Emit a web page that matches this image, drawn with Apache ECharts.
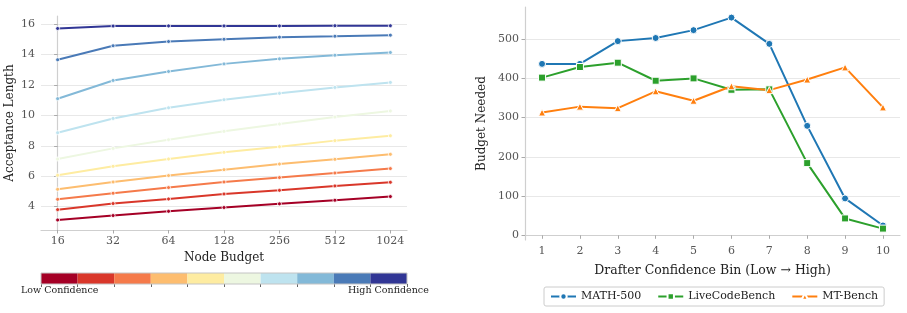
<!DOCTYPE html>
<html>
<head>
<meta charset="utf-8">
<script src="https://cdn.jsdelivr.net/npm/echarts@6/dist/echarts.min.js"></script>
<style>
  html, body { margin: 0; padding: 0; background: #fff; }
  #main { width: 907px; height: 313px; }
</style>
</head>
<body>
<div id="main"></div>
<script>
// left panel: acceptance length per node budget, one line per confidence bin
const budgetLabels = ['16', '32', '64', '128', '256', '512', '1024'];
const binColors = ['#a50026', '#d9372a', '#f57a4a', '#fdbd6f', '#feeca1',
                   '#edf7e1', '#bee3ef', '#83b9d8', '#4a7ab7', '#313695'];
// from low confidence (bottom) to high confidence (top)
const acceptLen = [
  [3.12, 3.41, 3.69, 3.94, 4.18, 4.42, 4.66],
  [3.80, 4.20, 4.50, 4.83, 5.07, 5.36, 5.60],
  [4.48, 4.88, 5.25, 5.62, 5.91, 6.21, 6.50],
  [5.14, 5.62, 6.04, 6.43, 6.80, 7.11, 7.44],
  [6.06, 6.65, 7.13, 7.57, 7.94, 8.34, 8.66],
  [7.13, 7.83, 8.40, 8.95, 9.43, 9.89, 10.29],
  [8.86, 9.80, 10.50, 11.03, 11.45, 11.84, 12.17],
  [11.10, 12.30, 12.89, 13.39, 13.72, 13.96, 14.14],
  [13.66, 14.58, 14.86, 15.01, 15.15, 15.21, 15.28],
  [15.72, 15.88, 15.89, 15.89, 15.89, 15.90, 15.90]
];
const leftYTicks = [4, 6, 8, 10, 12, 14, 16];

// right panel: budget needed per drafter confidence bin
const bins = [1, 2, 3, 4, 5, 6, 7, 8, 9, 10];
const math500 = [437, 437, 495, 503, 523, 555, 488, 279, 94, 25];
const liveCodeBench = [402, 429, 440, 394, 400, 371, 372, 184, 43, 17];
const mtBench = [313, 328, 324, 367, 343, 380, 370, 397, 428, 326];
const rightYTicks = [0, 100, 200, 300, 400, 500];

const font = 'DejaVu Serif';
const tickColor = '#555';
const spineColor = '#cfcfcf';
const gridColor = '#e8e8e8';

let myChart = echarts.init(document.getElementById('main'), null, {renderer: 'canvas'});

function xIndex(arr) {
  return arr.map(function (v, i) { return [i, v]; });
}

let series = [];
acceptLen.forEach(function (row, k) {
  series.push({
    name: 'bin' + (k + 1),
    type: 'line',
    xAxisIndex: 0,
    yAxisIndex: 0,
    data: xIndex(row),
    symbol: 'circle',
    symbolSize: 4,
    lineStyle: {width: 2, color: binColors[k]},
    itemStyle: {color: binColors[k], borderColor: '#fff', borderWidth: 0.8},
    z: 3 + k
  });
});

const rightSeries = [
  {name: 'MATH-500', data: math500, color: '#1f77b4', symbol: 'circle', size: 7},
  {name: 'LiveCodeBench', data: liveCodeBench, color: '#2ca02c', symbol: 'rect', size: 7},
  {name: 'MT-Bench', data: mtBench, color: '#ff7f0e', symbol: 'triangle', size: 7}
];
rightSeries.forEach(function (s) {
  series.push({
    name: s.name,
    type: 'line',
    xAxisIndex: 1,
    yAxisIndex: 1,
    data: s.data.map(function (v, i) { return [bins[i], v]; }),
    symbol: s.symbol,
    symbolSize: s.size,
    lineStyle: {width: 2, color: s.color},
    itemStyle: {color: s.color, borderColor: '#fff', borderWidth: 1}
  });
});

// colorbar: ten stacked segments
binColors.forEach(function (c, k) {
  series.push({
    name: 'seg' + k,
    type: 'bar',
    xAxisIndex: 2,
    yAxisIndex: 2,
    stack: 'cb',
    data: [1],
    barWidth: '100%',
    itemStyle: {color: c},
    silent: true
  });
});

let option = {
  animation: false,
  textStyle: {fontFamily: font},
  grid: [
    {left: 41, right: 500, top: 16, bottom: 83},
    {left: 525, right: 7, top: 7, bottom: 73},
    {left: 41, right: 500, top: 273, height: 11, show: true, z: 10, borderColor: '#c4c4c4', borderWidth: 1, backgroundColor: 'transparent'}
  ],
  xAxis: [
    {
      gridIndex: 0, type: 'value', min: -0.3, max: 6.3,
      name: 'Node Budget', nameLocation: 'middle', nameGap: 21,
      nameTextStyle: {fontFamily: font, fontSize: 12, color: '#222'},
      axisLine: {lineStyle: {color: spineColor, width: 1.2}},
      axisTick: {show: true, length: 3.5, lineStyle: {color: '#aaa'}, customValues: [0, 1, 2, 3, 4, 5, 6]},
      axisLabel: {
        customValues: [0, 1, 2, 3, 4, 5, 6], margin: 6,
        fontFamily: font, fontSize: 11, color: tickColor,
        formatter: function (v) { return budgetLabels[Math.round(v)]; }
      },
      splitLine: {show: false}
    },
    {
      gridIndex: 1, type: 'value', min: 0.55, max: 10.45,
      name: 'Drafter Confidence Bin (Low \u2192 High)', nameLocation: 'middle', nameGap: 24,
      nameTextStyle: {fontFamily: font, fontSize: 12.5, color: '#222'},
      axisLine: {lineStyle: {color: spineColor, width: 1.2}},
      axisTick: {show: true, length: 3.5, lineStyle: {color: '#aaa'}, customValues: bins},
      axisLabel: {customValues: bins, margin: 6, fontFamily: font, fontSize: 11, color: tickColor},
      splitLine: {show: false}
    },
    {
      gridIndex: 2, type: 'value', min: 0, max: 10, interval: 1,
      axisLine: {show: false},
      axisTick: {show: true, length: 3, lineStyle: {color: '#666'}},
      axisLabel: {show: false},
      splitLine: {show: false}
    }
  ],
  yAxis: [
    {
      gridIndex: 0, type: 'value', min: 2.46, max: 16.54,
      name: 'Acceptance Length', nameLocation: 'middle', nameGap: 25,
      nameTextStyle: {fontFamily: font, fontSize: 12, color: '#222'},
      axisLine: {show: true, lineStyle: {color: spineColor, width: 1.2}},
      axisTick: {show: true, length: 3.5, lineStyle: {color: '#aaa'}, customValues: leftYTicks},
      axisLabel: {customValues: leftYTicks, margin: 6, fontFamily: font, fontSize: 11, color: tickColor},
      splitLine: {show: true, lineStyle: {color: gridColor, width: 1}}
    },
    {
      gridIndex: 1, type: 'value', min: -12, max: 582,
      name: 'Budget Needed', nameLocation: 'middle', nameGap: 37,
      nameTextStyle: {fontFamily: font, fontSize: 12, color: '#222'},
      axisLine: {show: true, lineStyle: {color: spineColor, width: 1.2}},
      axisTick: {show: true, length: 3.5, lineStyle: {color: '#aaa'}, customValues: rightYTicks},
      axisLabel: {customValues: rightYTicks, margin: 6, fontFamily: font, fontSize: 11, color: tickColor},
      splitLine: {show: true, lineStyle: {color: gridColor, width: 1}}
    },
    {
      gridIndex: 2, type: 'category', data: ['cb'],
      axisLine: {show: false}, axisTick: {show: false}, axisLabel: {show: false}
    }
  ],
  legend: {
    data: ['MATH-500', 'LiveCodeBench', 'MT-Bench'],
    left: 544, top: 287,
    itemWidth: 25, itemHeight: 8, itemGap: 16,
    padding: [4, 6],
    borderColor: '#ccc', borderWidth: 1, borderRadius: 2,
    textStyle: {fontFamily: font, fontSize: 11, color: '#222'}
  },
  graphic: [
    {type: 'text', left: 21, top: 286, style: {text: 'Low Confidence', font: '9.5px "DejaVu Serif"', fill: '#222'}},
    {type: 'text', left: 348, top: 286, style: {text: 'High Confidence', font: '9.5px "DejaVu Serif"', fill: '#222'}}
  ],
  series: series
};
myChart.setOption(option);
</script>
</body>
</html>
